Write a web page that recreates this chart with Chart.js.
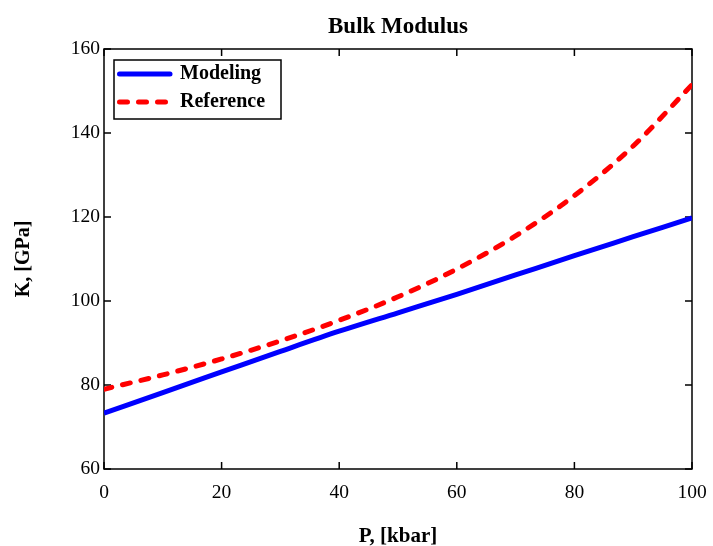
<!DOCTYPE html>
<html>
<head>
<meta charset="utf-8">
<title>Bulk Modulus</title>
<script src="https://cdn.jsdelivr.net/npm/chart.js@4/dist/chart.umd.min.js"></script>
<style>
  html, body { margin: 0; padding: 0; background: #fff; }
  canvas { display: block; }
</style>
</head>
<body>
<canvas id="bulk-chart" width="713" height="546"></canvas>
<script>
// Pressure, kbar
const pressure = [0, 10, 20, 30, 40, 50, 60, 70, 80, 90, 100];
// Bulk modulus, GPa
const modeling = [73.3, 78.2, 83.1, 88.0, 92.8, 97.2, 101.6, 106.2, 110.8, 115.3, 119.8];
const reference = [79.0, 82.4, 86.2, 90.5, 95.4, 101.0, 107.6, 115.5, 125.1, 136.9, 151.5];
const xTicks = [0, 20, 40, 60, 80, 100];
const yTicks = [60, 80, 100, 120, 140, 160];

const serif = '"Liberation Serif", "Times New Roman", serif';

function toPoints(xs, ys) {
    return xs.map((x, i) => ({x: x, y: ys[i]}));
}

// Box around the plot with inward ticks on all four sides
const boxPlugin = {
    id: 'box',
    beforeDatasetsDraw(chart) {
        const {ctx, chartArea: a, scales: {x, y}} = chart;
        const len = 7;
        ctx.save();
        ctx.strokeStyle = '#000';
        ctx.lineWidth = 1.5;
        ctx.strokeRect(a.left, a.top, a.right - a.left, a.bottom - a.top);
        ctx.beginPath();
        xTicks.forEach(v => {
            const px = x.getPixelForValue(v);
            ctx.moveTo(px, a.bottom); ctx.lineTo(px, a.bottom - len);
            ctx.moveTo(px, a.top); ctx.lineTo(px, a.top + len);
        });
        yTicks.forEach(v => {
            const py = y.getPixelForValue(v);
            ctx.moveTo(a.left, py); ctx.lineTo(a.left + len, py);
            ctx.moveTo(a.right, py); ctx.lineTo(a.right - len, py);
        });
        ctx.stroke();
        ctx.restore();
    }
};

// Boxed legend in the upper left corner
const boxLegend = {
    id: 'boxLegend',
    afterDatasetsDraw(chart) {
        const {ctx} = chart;
        const left = 114, top = 60, w = 167, h = 59;
        ctx.save();
        ctx.fillStyle = '#fff';
        ctx.fillRect(left, top, w, h);
        ctx.strokeStyle = '#000';
        ctx.lineWidth = 1.5;
        ctx.strokeRect(left, top, w, h);
        chart.data.datasets.forEach((ds, i) => {
            const yy = 74 + i * 28;
            ctx.beginPath();
            ctx.strokeStyle = ds.borderColor;
            ctx.lineWidth = ds.borderWidth;
            ctx.lineCap = 'round';
            ctx.setLineDash(ds.borderDash || []);
            ctx.moveTo(119.5, yy);
            ctx.lineTo(170, yy);
            ctx.stroke();
            ctx.setLineDash([]);
            ctx.fillStyle = '#000';
            ctx.font = 'bold 20px ' + serif;
            ctx.textBaseline = 'middle';
            ctx.textAlign = 'left';
            ctx.fillText(ds.label, 180, yy);
        });
        ctx.restore();
    }
};

const ctx = document.getElementById('bulk-chart').getContext('2d');
const chart = new Chart(ctx, {
    type: 'line',
    data: {
        datasets: [{
            label: 'Modeling',
            data: toPoints(pressure, modeling),
            borderColor: '#0000ff',
            borderWidth: 5,
            pointRadius: 0,
            cubicInterpolationMode: 'monotone'
        }, {
            label: 'Reference',
            data: toPoints(pressure, reference),
            borderColor: '#ff0000',
            borderWidth: 5,
            borderDash: [8, 11],
            borderCapStyle: 'round',
            pointRadius: 0,
            cubicInterpolationMode: 'monotone'
        }]
    },
    options: {
        responsive: false,
        animation: false,
        layout: { padding: { left: 0, right: 21, top: 0, bottom: 0 } },
        plugins: {
            legend: { display: false },
            tooltip: { enabled: false },
            title: {
                display: true,
                text: 'Bulk Modulus',
                fullSize: false,
                color: '#000',
                font: { family: serif, size: 23, weight: 'bold', lineHeight: 1.2 },
                padding: { top: 13, bottom: 8.4 }
            }
        },
        scales: {
            x: {
                type: 'linear',
                min: 0,
                max: 100,
                grid: { display: false, drawTicks: false },
                border: { display: false },
                afterBuildTicks(scale) { scale.ticks = xTicks.map(v => ({value: v})); },
                afterFit(scale) {
                    scale.height = 77;
                    scale.paddingLeft = 0;
                    scale.paddingRight = 0;
                },
                ticks: {
                    color: '#000',
                    padding: 12,
                    maxRotation: 0,
                    font: { family: serif, size: 19.5 }
                },
                title: {
                    display: true,
                    text: 'P, [kbar]',
                    color: '#000',
                    font: { family: serif, size: 21, weight: 'bold', lineHeight: 0.9 },
                    padding: { top: 0, bottom: 0 }
                }
            },
            y: {
                min: 60,
                max: 160,
                grid: { display: false, drawTicks: false },
                border: { display: false },
                afterBuildTicks(scale) { scale.ticks = yTicks.map(v => ({value: v})); },
                afterFit(scale) {
                    scale.width = 104;
                    scale.paddingTop = 0;
                    scale.paddingBottom = 0;
                },
                ticks: {
                    color: '#000',
                    padding: 4,
                    font: { family: serif, size: 19.5 }
                },
                title: {
                    display: true,
                    text: 'K, [GPa]',
                    color: '#000',
                    font: { family: serif, size: 20, weight: 'bold', lineHeight: 1.2 },
                    padding: { top: 12, bottom: 0 }
                }
            }
        }
    },
    plugins: [boxPlugin, boxLegend]
});
</script>
</body>
</html>
